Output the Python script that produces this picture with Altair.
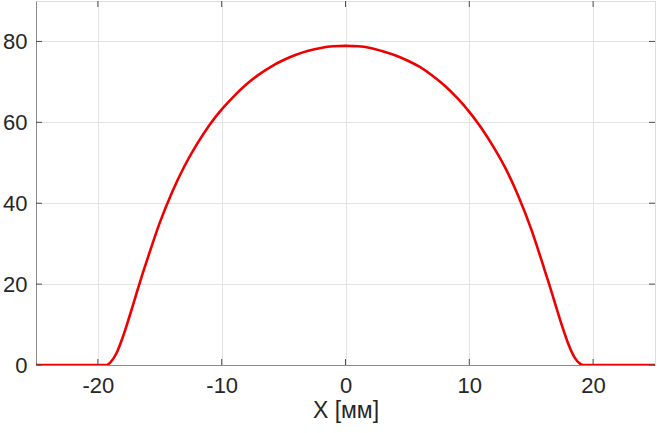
import altair as alt
import pandas as pd

# curve values
x_vals = [-25, -20, -19.3, -19.0, -18.5, -18.0, -17.5, -17.0, -16.5, -16.0, -15.0, -14.0, -13.0, -12.0, -11.0,
          -10.0, -9.0, -8.0, -7.0, -6.0, -5.0, -4.0, -3.0, -2.0, -1.0, 0.0,
          1.0, 2.0, 3.0, 4.0, 5.0, 6.0, 7.0, 8.0, 9.0, 10.0, 11.0, 12.0, 13.0, 14.0,
          15.0, 16.0, 16.5, 17.0, 17.5, 18.0, 18.5, 19.0, 19.2, 20, 25]
y_vals = [0, 0, 0, 0.6, 2.9, 6.8, 11.5, 16.5, 21.5, 26.2, 35.2, 42.8, 49.2, 54.6, 59.3,
          63.2, 66.5, 69.4, 71.8, 73.8, 75.4, 76.7, 77.7, 78.4, 78.8, 78.9,
          78.8, 78.4, 77.6, 76.6, 75.3, 73.7, 71.6, 69.1, 66.1, 62.6, 58.5, 53.7, 48.2, 41.5,
          33.6, 24.3, 19.5, 14.5, 9.6, 5.2, 1.9, 0.2, 0, 0, 0]

x_ticks = [-20, -10, 0, 10, 20]
y_ticks = [0, 20, 40, 60, 80]

W, H = 619, 364
TXT = "#262626"
FONT = "Liberation Sans"
LBL = "datum.value < 0 ? '-' + abs(datum.value) : '' + datum.value"

df = pd.DataFrame({"x": x_vals, "y": y_vals})
xt = pd.DataFrame({"t": x_ticks})
yt = pd.DataFrame({"t": y_ticks})

xscale = alt.Scale(domain=[-25, 25], nice=False, zero=False)
yscale = alt.Scale(domain=[0, 90], nice=False)

xaxis = alt.Axis(values=x_ticks, title="X [мм]", grid=True, gridColor="#e3e3e3",
                 labelFontSize=22, labelColor=TXT, labelFont=FONT, labelPadding=10,
                 labelExpr=LBL,
                 titleFontSize=23, titleColor=TXT, titleFont=FONT, titleFontWeight="normal",
                 titlePadding=3, ticks=False, domainColor="#8a8a8a", labelFlush=False)
yaxis = alt.Axis(values=y_ticks, title=None, grid=True, gridColor="#e3e3e3",
                 labelFontSize=22, labelColor=TXT, labelFont=FONT, labelPadding=9,
                 ticks=False, domainColor="#8a8a8a", labelFlush=False)

line = alt.Chart(df).mark_line(color="#ee0000", strokeWidth=2.6, clip=True,
                               interpolate="monotone").encode(
    x=alt.X("x:Q", scale=xscale, axis=xaxis),
    y=alt.Y("y:Q", scale=yscale, axis=yaxis),
)

tick_col = "#4d4d4d"
xb = alt.Chart(xt).mark_rule(color=tick_col, strokeWidth=1).encode(
    x=alt.X("t:Q", scale=xscale), y=alt.value(H), y2=alt.value(H - 6))
xtop = alt.Chart(xt).mark_rule(color=tick_col, strokeWidth=1).encode(
    x=alt.X("t:Q", scale=xscale), y=alt.value(0), y2=alt.value(6))
yl = alt.Chart(yt).mark_rule(color=tick_col, strokeWidth=1).encode(
    y=alt.Y("t:Q", scale=yscale), x=alt.value(0), x2=alt.value(6))
yr = alt.Chart(yt).mark_rule(color=tick_col, strokeWidth=1).encode(
    y=alt.Y("t:Q", scale=yscale), x=alt.value(W), x2=alt.value(W - 6))

chart = alt.layer(line, xb, xtop, yl, yr).properties(
    width=W, height=H,
    autosize=alt.AutoSizeParams(type="none"),
    padding={"left": 36, "top": 1, "right": 2, "bottom": 68},
).configure_view(stroke="#8a8a8a", strokeWidth=1).configure(background="white")

chart.save("out.html", embed_options={"renderer": "svg", "actions": False})
